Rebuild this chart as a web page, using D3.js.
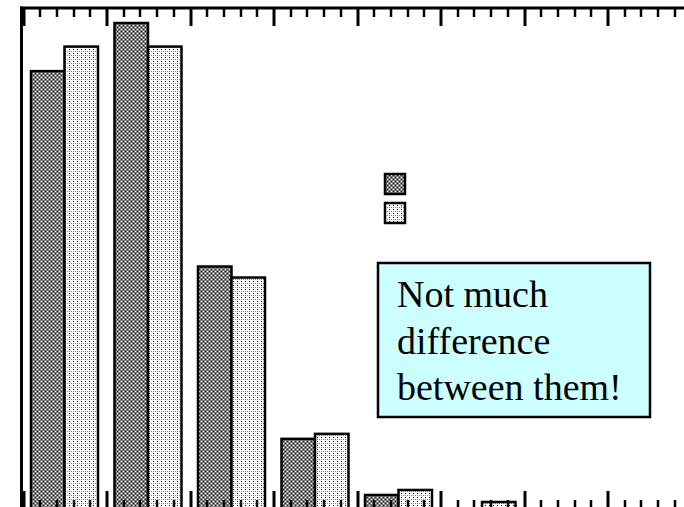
<!DOCTYPE html>
<html><head><meta charset="utf-8">
<script src="https://cdn.jsdelivr.net/npm/d3@7"></script>
<style>html,body{margin:0;padding:0;background:#fff;}svg{display:block;}</style>
</head><body>
<script>
// ---- data ----
const categories = ["1","2","3","4","5","6","7","8"];
const seriesNames = ["Series A","Series B"];
const seriesA = [87.4, 97.0, 48.4, 14.0, 2.8, 0, 0, 0];
const seriesB = [92.3, 92.3, 46.2, 15.0, 3.8, 1.4, 0, 0];
const noteLines = ["Not much", "difference", "between them!"];

const W = 684, H = 507;
const svg = d3.select("body").append("svg").attr("width", W).attr("height", H);

// patterns
const defs = svg.append("defs");
const pA = defs.append("pattern").attr("id","patA").attr("patternUnits","userSpaceOnUse").attr("width",4).attr("height",4);
pA.append("rect").attr("width",4).attr("height",4).attr("fill","#808080");
[[1,1],[3,3]].forEach(([x,y])=>pA.append("rect").attr("x",x).attr("y",y).attr("width",1).attr("height",1).attr("fill","#fff"));
[[1,3],[3,1]].forEach(([x,y])=>pA.append("rect").attr("x",x).attr("y",y).attr("width",1).attr("height",1).attr("fill","#222"));
const pB = defs.append("pattern").attr("id","patB").attr("patternUnits","userSpaceOnUse").attr("width",4).attr("height",4);
pB.append("rect").attr("width",4).attr("height",4).attr("fill","#fff");
pB.append("rect").attr("x",1).attr("y",1).attr("width",1).attr("height",1).attr("fill","#000");
[[1,3],[3,3]].forEach(([x,y])=>pB.append("rect").attr("x",x).attr("y",y).attr("width",1).attr("height",1).attr("fill","#888"));
const fills = ["url(#patA)","url(#patB)"];

// scales
const left = 23.5, step = 83.5, topY = 8, baseY = 509;
const x0 = d3.scaleBand().domain(categories).range([left, left + step*categories.length]).padding(0);
const x1 = d3.scaleBand().domain(seriesNames).range([7.5, 74.5]).padding(0);
const y = d3.scaleLinear().domain([0, 100]).range([baseY, topY]);
const xl = d3.scaleLinear().domain([0, categories.length]).range([left, left + step*categories.length]);

// bars
const data = categories.map((c,i)=>({c, vals:[seriesA[i], seriesB[i]]}));
const g = svg.append("g");
data.forEach(d=>{
  d.vals.forEach((v,j)=>{
    if (v <= 0) return;
    g.append("rect")
      .attr("x", x0(d.c) + x1(seriesNames[j]))
      .attr("y", y(v))
      .attr("width", x1.bandwidth())
      .attr("height", y(0) - y(v) + 4)
      .attr("fill", fills[j])
      .attr("stroke", "#000").attr("stroke-width", 2.5);
  });
});

// axes ticks (major every category, 4 minor between)
const allTicks = d3.range(0, categories.length*5+1).map(k=>({v:k/5, major:k%5===0}));
const tg = svg.append("g");
tg.selectAll("line.top").data(allTicks).join("line").attr("class","top")
  .attr("x1",d=>Math.round(xl(d.v))).attr("x2",d=>Math.round(xl(d.v)))
  .attr("y1",topY).attr("y2",d=>topY + (d.major?18:9))
  .attr("stroke","#000").attr("stroke-width",d=>d.major?3:2.5);
tg.selectAll("line.bot").data(allTicks).join("line").attr("class","bot")
  .attr("x1",d=>Math.round(xl(d.v))).attr("x2",d=>Math.round(xl(d.v)))
  .attr("y1",baseY).attr("y2",d=>baseY - (d.major?18:9))
  .attr("stroke","#000").attr("stroke-width",d=>d.major?3:2.5);
svg.append("line").attr("x1",20).attr("x2",W).attr("y1",topY).attr("y2",topY).attr("stroke","#000").attr("stroke-width",3);
svg.append("line").attr("x1",21.5).attr("x2",21.5).attr("y1",topY-1.5).attr("y2",H).attr("stroke","#000").attr("stroke-width",3);

// legend
const lg = svg.append("g");
seriesNames.forEach((s,j)=>{
  lg.append("rect").attr("x",385).attr("y",174 + j*29).attr("width",20).attr("height",20)
    .attr("fill",fills[j]).attr("stroke","#000").attr("stroke-width",2.5);
});

// note box
svg.append("rect").attr("x",378).attr("y",263).attr("width",272).attr("height",154)
  .attr("fill","#ccffff").attr("stroke","#000").attr("stroke-width",2.5);
const t = svg.append("text").attr("font-family","'Liberation Serif','Times New Roman',serif")
  .attr("font-size",38).attr("fill","#000");
noteLines.forEach((l,i)=>{
  t.append("tspan").attr("x",397).attr("y",307 + i*46.5).text(l);
});
</script>
</body></html>
